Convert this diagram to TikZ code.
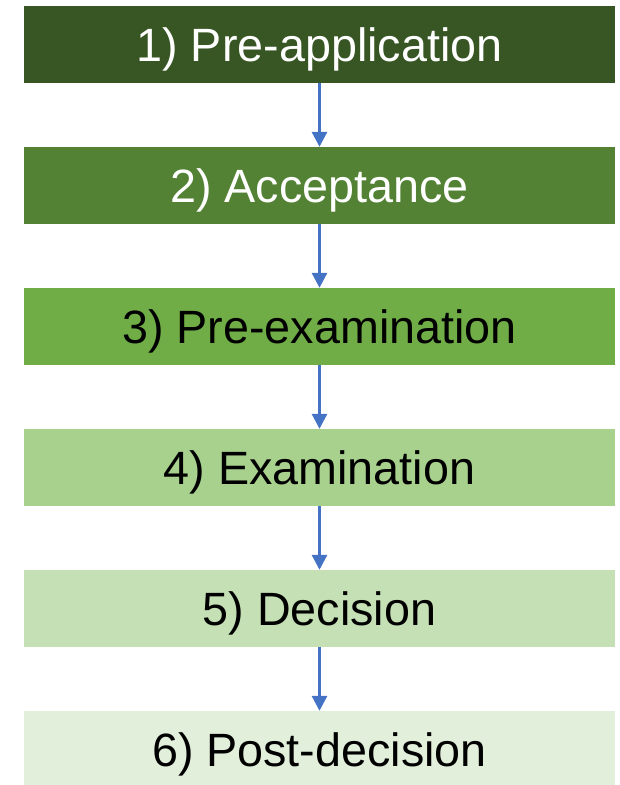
\documentclass[tikz,border=0pt]{standalone}
\usepackage{fontspec}
\setmainfont{Liberation Sans}
\usetikzlibrary{arrows.meta}
\definecolor{stepone}{HTML}{375623}
\definecolor{steptwo}{HTML}{548235}
\definecolor{stepthree}{HTML}{70AD47}
\definecolor{stepfour}{HTML}{A9D18E}
\definecolor{stepfive}{HTML}{C5E0B4}
\definecolor{stepsix}{HTML}{E2EFDA}
\definecolor{flowblue}{HTML}{4472C4}

\begin{document}
\begin{tikzpicture}[x=1pt, y=-1pt,
		stagebox/.style={rectangle, inner sep=0pt, minimum width=591pt, minimum height=77pt,
			text height=33.4pt, text depth=0pt, font=\fontsize{46.7}{56}\selectfont},
		flow/.style={draw=flowblue, line width=3pt, -{Triangle[width=15pt,length=15pt]}}]
			%%%%% START %%%%%
			
			\useasboundingbox (0, 0) rectangle (620, 785);
			
			\node[stagebox, fill=stepone, text=white] (pre) at (319.5, 44.5) {1) Pre-application};
			\node[stagebox, fill=steptwo, text=white] (acc) at (319.5, 185.5) {2) Acceptance};
			\node[stagebox, fill=stepthree] (preexam) at (319.5, 326.5) {3) Pre-examination};
			\node[stagebox, fill=stepfour] (exam) at (319.5, 467.5) {4) Examination};
			\node[stagebox, fill=stepfive] (dec) at (319.5, 608.5) {5) Decision};
			\node[stagebox, fill=stepsix] (postdec) at (319.5, 749.5) {6) Post-decision};
			
			\draw[flow] (pre) -- (acc);
			\draw[flow] (acc) -- (preexam);
			\draw[flow] (preexam) -- (exam);
			\draw[flow] (exam) -- (dec);
			\draw[flow] (dec) -- (postdec);
			
			%%%%% END %%%%%
		\end{tikzpicture}
\end{document}
